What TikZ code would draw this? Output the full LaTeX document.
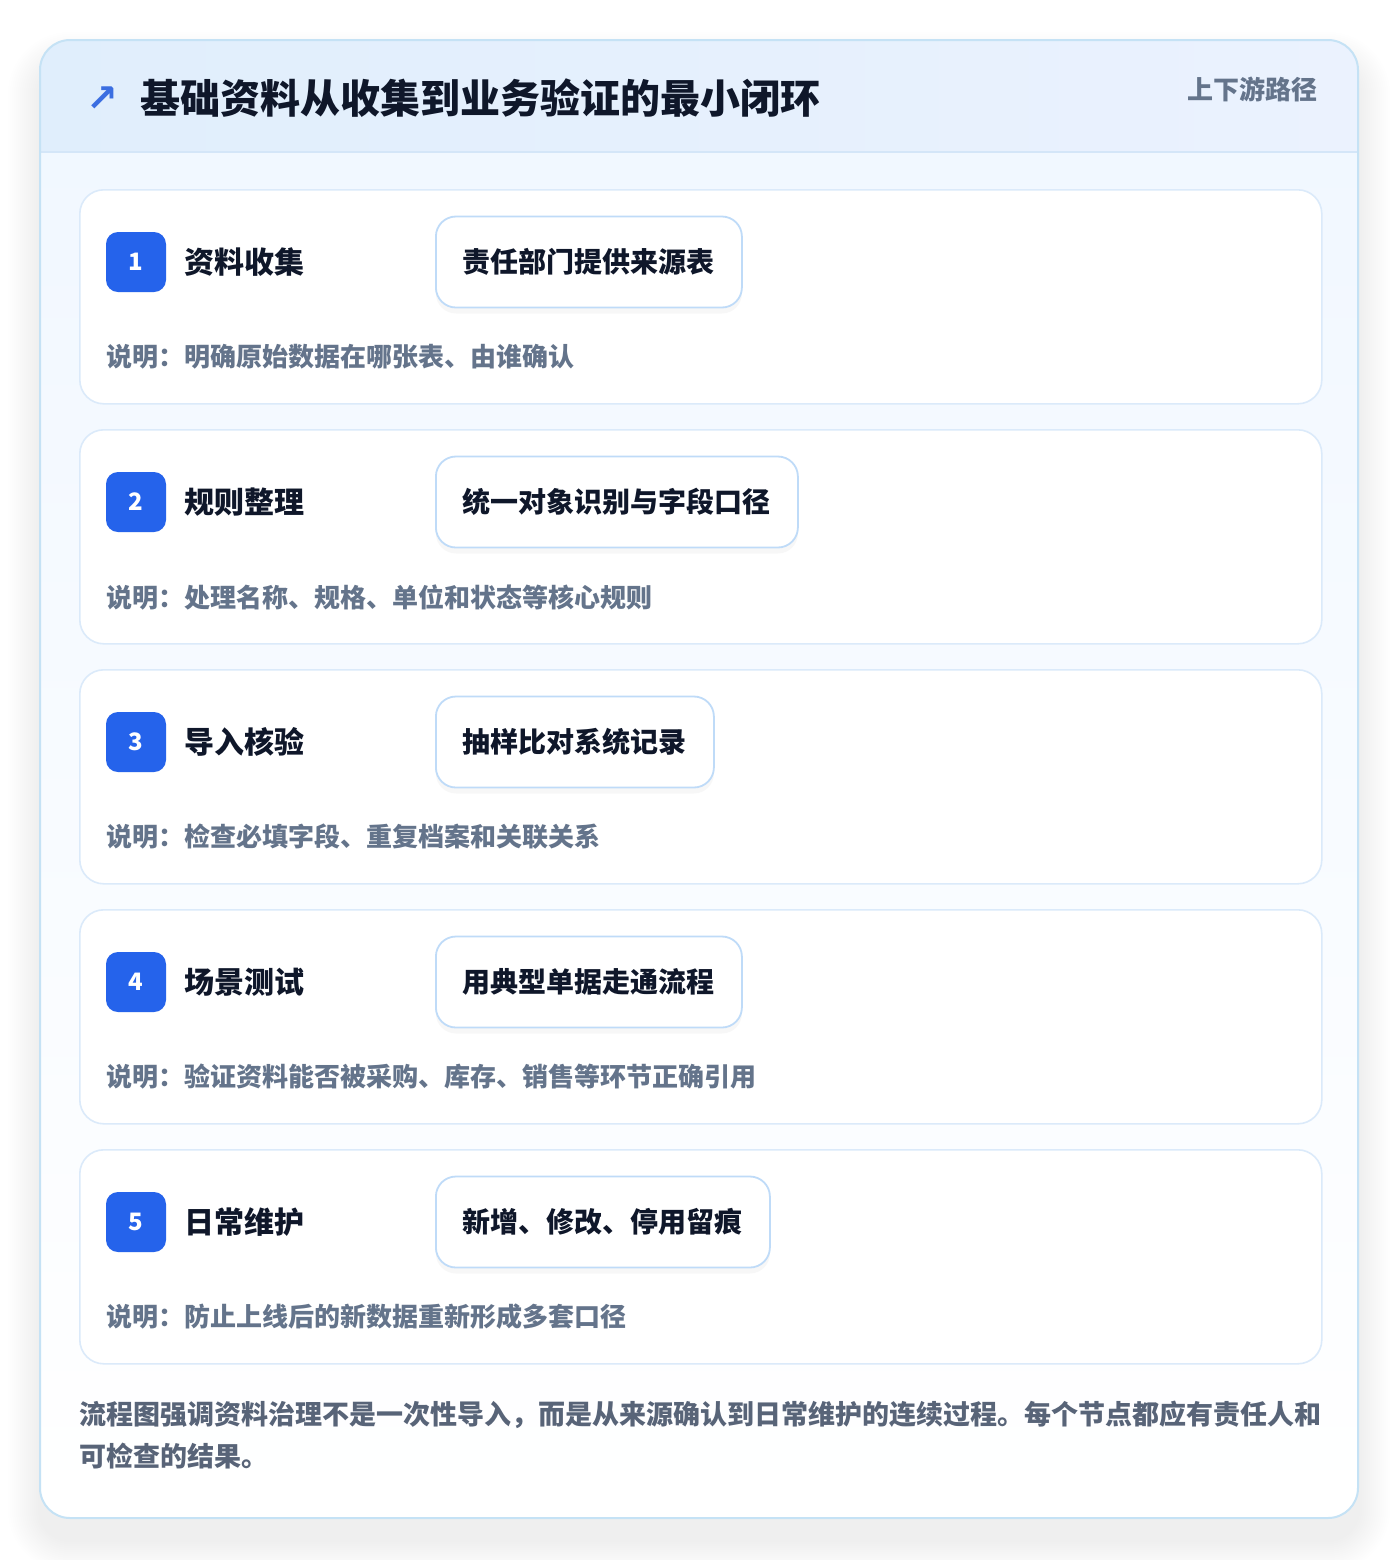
\documentclass[tikz,border=0pt]{standalone}
\usepackage{fontspec}
\setmainfont{Noto Sans CJK SC}
\newfontfamily\symfont{DejaVu Sans}
\usepackage{tikz}
\usetikzlibrary{positioning,shadows}
\definecolor{badgeblue}{RGB}{37,99,235}
\definecolor{iconblue}{RGB}{59,110,225}
\definecolor{ink}{RGB}{15,23,42}
\definecolor{muted}{RGB}{100,116,139}
\definecolor{footgray}{RGB}{88,100,120}
\definecolor{outerline}{RGB}{197,226,245}
\definecolor{headline}{RGB}{212,230,248}
\definecolor{headleft}{RGB}{224,238,252}
\definecolor{headright}{RGB}{235,242,254}
\definecolor{bodytop}{RGB}{240,247,255}
\definecolor{cardline}{RGB}{219,234,250}
\definecolor{pillline}{RGB}{191,219,248}

\tikzset{
  cardbox/.style={draw=cardline, fill=white, line width=0.8pt, rounded corners=12pt,
    minimum width=621pt, minimum height=107pt, anchor=north west},
  badge/.style={fill=badgeblue, rounded corners=6pt, minimum size=30pt, inner sep=0pt,
    text=white, font=\bfseries\fontsize{12}{14}\selectfont},
  steptitle/.style={anchor=west, inner sep=0pt, text=ink, font=\bfseries\fontsize{15}{18}\selectfont},
  pill/.style={draw=pillline, fill=white, line width=0.9pt, rounded corners=10pt,
    minimum height=45.5pt, inner xsep=13.5pt, anchor=west, text=ink,
    font=\bfseries\fontsize{14}{16}\selectfont,
    drop shadow={opacity=0.06, shadow xshift=0pt, shadow yshift=-3pt}},
  desc/.style={anchor=west, inner sep=0pt, text=muted, font=\bfseries\fontsize{13}{15}\selectfont},
}

\begin{document}
\begin{tikzpicture}[x=0.5pt, y=-0.5pt]
  \useasboundingbox (0,0) rectangle (1400,1560);
  \fill[white] (0,0) rectangle (1400,1560);

  % soft shadow under the panel
  \foreach \s in {2,4,...,32} {
    \pgfmathsetmacro\rr{15+\s/2}
    \fill[black, opacity=0.0035, rounded corners=\rr pt] (40-\s,64-\s) rectangle (1358+\s,1540+\s);
  }

  % panel and header
  \shade[top color=bodytop, bottom color=white, rounded corners=15pt] (40,40) rectangle (1358,1518);
  \begin{scope}
    \clip[rounded corners=15pt] (40,40) rectangle (1358,1518);
    \shade[left color=headleft, right color=headright] (40,40) rectangle (1358,152);
  \end{scope}
  \draw[headline, line width=0.8pt] (40,152) -- (1358,152);
  \draw[outerline, line width=1pt, rounded corners=15pt] (40,40) rectangle (1358,1518);

  \node[text=iconblue, font=\symfont\bfseries\fontsize{19}{19}\selectfont] (icon) at (102,99) {↗};
  \node[anchor=west, inner sep=0pt, text=ink, font=\bfseries\fontsize{20}{24}\selectfont] (title) at (140,98) {基础资料从收集到业务验证的最小闭环};
  \node[anchor=east, inner sep=0pt, text=muted, font=\bfseries\fontsize{13}{15}\selectfont] (tag) at (1318,89) {上下游路径};

  % step 1
  \node[cardbox] (card1) at (79,189) {};
  \node[badge] (b1) at (136,262) {1};
  \node[steptitle, right=9pt of b1] (t1) {资料收集};
  \node[pill] (p1) at (435,262) {责任部门提供来源表};
  \node[desc] (d1) at (106,357) {说明：明确原始数据在哪张表、由谁确认};

  % step 2
  \node[cardbox] (card2) at (79,429) {};
  \node[badge] (b2) at (136,502) {2};
  \node[steptitle, right=9pt of b2] (t2) {规则整理};
  \node[pill] (p2) at (435,502) {统一对象识别与字段口径};
  \node[desc] (d2) at (106,597) {说明：处理名称、规格、单位和状态等核心规则};

  % step 3
  \node[cardbox] (card3) at (79,669) {};
  \node[badge] (b3) at (136,742) {3};
  \node[steptitle, right=9pt of b3] (t3) {导入核验};
  \node[pill] (p3) at (435,742) {抽样比对系统记录};
  \node[desc] (d3) at (106,837) {说明：检查必填字段、重复档案和关联关系};

  % step 4
  \node[cardbox] (card4) at (79,909) {};
  \node[badge] (b4) at (136,982) {4};
  \node[steptitle, right=9pt of b4] (t4) {场景测试};
  \node[pill] (p4) at (435,982) {用典型单据走通流程};
  \node[desc] (d4) at (106,1077) {说明：验证资料能否被采购、库存、销售等环节正确引用};

  % step 5
  \node[cardbox] (card5) at (79,1149) {};
  \node[badge] (b5) at (136,1222) {5};
  \node[steptitle, right=9pt of b5] (t5) {日常维护};
  \node[pill] (p5) at (435,1222) {新增、修改、停用留痕};
  \node[desc] (d5) at (106,1317) {说明：防止上线后的新数据重新形成多套口径};

  % closing note
  \node[anchor=north west, align=left, inner sep=0pt, text=footgray,
    font=\bfseries\fontsize{13.5}{21}\selectfont] (note) at (79,1401)
    {流程图强调资料治理不是一次性导入，而是从来源确认到日常维护的连续过程。每个节点都应有责任人和\\可检查的结果。};
\end{tikzpicture}
\end{document}
